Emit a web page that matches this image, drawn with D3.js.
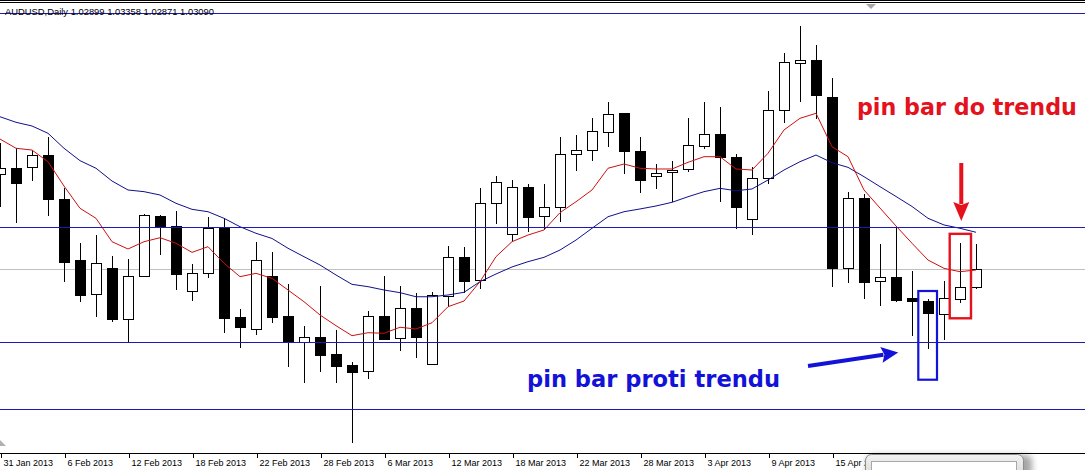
<!DOCTYPE html>
<html><head><meta charset="utf-8">
<script src="https://cdn.jsdelivr.net/npm/d3@7"></script>
<style>html,body{margin:0;padding:0;background:#fff;overflow:hidden}</style>
</head><body>
<svg id="c" width="1085" height="470"></svg>
<script>
const title = "AUDUSD,Daily  1.02899 1.03358 1.02871 1.03090";
const dates = ["31 Jan 2013","1 Feb 2013","4 Feb 2013","5 Feb 2013","6 Feb 2013","7 Feb 2013","8 Feb 2013","11 Feb 2013","12 Feb 2013","13 Feb 2013","14 Feb 2013","15 Feb 2013","18 Feb 2013","19 Feb 2013","20 Feb 2013","21 Feb 2013","22 Feb 2013","25 Feb 2013","26 Feb 2013","27 Feb 2013","28 Feb 2013","1 Mar 2013","4 Mar 2013","5 Mar 2013","6 Mar 2013","7 Mar 2013","8 Mar 2013","11 Mar 2013","12 Mar 2013","13 Mar 2013","14 Mar 2013","15 Mar 2013","18 Mar 2013","19 Mar 2013","20 Mar 2013","21 Mar 2013","22 Mar 2013","25 Mar 2013","26 Mar 2013","27 Mar 2013","28 Mar 2013","29 Mar 2013","1 Apr 2013","2 Apr 2013","3 Apr 2013","4 Apr 2013","5 Apr 2013","8 Apr 2013","9 Apr 2013","10 Apr 2013","11 Apr 2013","12 Apr 2013","15 Apr 2013","16 Apr 2013","17 Apr 2013","18 Apr 2013","19 Apr 2013","22 Apr 2013","23 Apr 2013","24 Apr 2013","25 Apr 2013","26 Apr 2013"];
const open = [1.04119,1.04181,1.04191,1.04324,1.03849,1.03189,1.02818,1.03099,1.02555,1.03013,1.03665,1.03554,1.02857,1.03045,1.03535,1.02570,1.02447,1.03016,1.02587,1.02306,1.02354,1.02173,1.02054,1.01986,1.02584,1.02343,1.02670,1.02062,1.02797,1.03218,1.02970,1.03802,1.03467,1.03975,1.03662,1.03759,1.04332,1.04375,1.04570,1.04775,1.04364,1.04094,1.04144,1.04170,1.04425,1.04551,1.04303,1.03636,1.04072,1.04808,1.05322,1.05351,1.04951,1.03106,1.03856,1.02959,1.03002,1.02775,1.02743,1.02602,1.02768,1.02899];
const high = [1.04451,1.04397,1.04378,1.04522,1.03964,1.03370,1.03459,1.03232,1.03197,1.03686,1.03676,1.03719,1.03146,1.03651,1.03640,1.02656,1.03381,1.03279,1.02930,1.02479,1.02908,1.02432,1.02090,1.02638,1.03016,1.02908,1.02829,1.02840,1.03341,1.03333,1.03968,1.04097,1.04051,1.04011,1.04011,1.04519,1.04541,1.04721,1.04897,1.04778,1.04516,1.04227,1.04259,1.04721,1.04897,1.04840,1.04332,1.04195,1.05016,1.05427,1.05719,1.05514,1.05154,1.03928,1.03903,1.03362,1.03549,1.03073,1.02768,1.02962,1.03370,1.03358];
const low = [1.03765,1.03586,1.04046,1.03668,1.02955,1.02738,1.02570,1.02522,1.02289,1.03010,1.03243,1.02865,1.02749,1.02998,1.02397,1.02235,1.02375,1.02508,1.02036,1.01863,1.01982,1.01863,1.01214,1.01903,1.02330,1.02205,1.02133,1.02060,1.02678,1.02836,1.02872,1.03578,1.03398,1.03489,1.03514,1.03603,1.04155,1.04263,1.04414,1.04119,1.03917,1.03957,1.03813,1.04137,1.04392,1.03819,1.03521,1.03456,1.04008,1.04674,1.04901,1.04717,1.02901,1.02937,1.02764,1.02692,1.02738,1.02371,1.02227,1.02328,1.02721,1.02871];
const close = [1.04181,1.04018,1.04321,1.03852,1.03171,1.02814,1.03154,1.02555,1.03013,1.03672,1.03549,1.03035,1.03045,1.03532,1.02565,1.02468,1.03192,1.02576,1.02299,1.02354,1.02165,1.02047,1.01982,1.02584,1.02338,1.02667,1.02360,1.02808,1.03218,1.02965,1.03802,1.04036,1.03975,1.03657,1.03759,1.04332,1.04375,1.04581,1.04764,1.04371,1.04057,1.04126,1.04165,1.04429,1.04548,1.04299,1.03765,1.04072,1.04811,1.05326,1.05348,1.04976,1.03106,1.03856,1.02955,1.03002,1.02762,1.02741,1.02613,1.02775,1.02901,1.03090];
const maRed = [1.04497,1.04397,1.04378,1.04252,1.03989,1.03748,1.03640,1.03387,1.03308,1.03387,1.03430,1.03370,1.03272,1.03333,1.03154,1.03009,1.03045,1.02991,1.02865,1.02738,1.02595,1.02479,1.02371,1.02403,1.02397,1.02462,1.02443,1.02511,1.02684,1.02746,1.02955,1.03225,1.03387,1.03459,1.03514,1.03701,1.03819,1.03946,1.04181,1.04227,1.04181,1.04173,1.04173,1.04245,1.04306,1.04306,1.04173,1.04162,1.04343,1.04595,1.04721,1.04775,1.04414,1.04306,1.03946,1.03751,1.03557,1.03370,1.03189,1.03099,1.03063,1.03081];
const maBlue = [1.04738,1.04678,1.04638,1.04559,1.04397,1.04263,1.04181,1.04043,1.03946,1.03928,1.03892,1.03802,1.03737,1.03711,1.03640,1.03549,1.03478,1.03422,1.03316,1.03225,1.03135,1.03027,1.02926,1.02901,1.02865,1.02836,1.02792,1.02792,1.02811,1.02840,1.02955,1.03038,1.03114,1.03171,1.03218,1.03297,1.03405,1.03532,1.03657,1.03711,1.03741,1.03773,1.03813,1.03873,1.03928,1.03964,1.03938,1.03957,1.04054,1.04162,1.04252,1.04324,1.04241,1.04191,1.04090,1.03982,1.03876,1.03768,1.03640,1.03568,1.03532,1.03489];
const levels = [1.05859, 1.03549, 1.02299, 1.01575];
const bidPrice = 1.03090;
const noteTexts = ["pin bar do trendu", "pin bar proti trendu"];
const noteColors = ["#e4121c", "#1212d8"];
const noteIndex = [53.56, 32.94];
const notePrice = [1.04757, 1.01816];
const boxIndex = [60, 58];
const boxTop = [1.03472, 1.02854];
const boxBottom = [1.02559, 1.01895];
const arrowFrom = [[60.08, 1.04238], [50.5, 1.02043]];
const arrowTo = [[60.08, 1.03611], [56.14, 1.02190]];

const svg = d3.select("#c");
const W = 1085, H = 470;
const x = d3.scalePoint().domain(dates).range([0, 976]);
const xi = d3.scaleLinear().domain([0, dates.length - 1]).range([0, 976]);
const y = d3.scaleLinear().domain([1.01, 1.06]).range([462.5, 0]);
const axisY = 453.5;

svg.append("rect").attr("width", W).attr("height", H).attr("fill", "#fff");

// frame top
svg.append("line").attr("x1",0).attr("x2",W).attr("y1",0.5).attr("y2",0.5).attr("stroke","#000");
svg.append("line").attr("x1",0).attr("x2",W).attr("y1",2.5).attr("y2",2.5).attr("stroke","#000");

// bid line
svg.append("line").attr("x1",0).attr("x2",W)
  .attr("y1", Math.round(y(bidPrice))+0.5).attr("y2", Math.round(y(bidPrice))+0.5)
  .attr("stroke","#c0c0c0");

// candles
const idx = d3.range(dates.length);
const cg = svg.append("g").attr("shape-rendering","crispEdges");
cg.selectAll("line.w").data(idx).join("line")
  .attr("x1", i => x(dates[i]) + 0.5).attr("x2", i => x(dates[i]) + 0.5)
  .attr("y1", i => y(high[i])).attr("y2", i => y(low[i]))
  .attr("stroke", "#000");
cg.selectAll("rect.b").data(idx).join("rect")
  .attr("x", i => x(dates[i]) - 4.5).attr("width", 10)
  .attr("y", i => Math.round(y(Math.max(open[i], close[i]))) + 0.5)
  .attr("height", i => Math.max(1, Math.round(y(Math.min(open[i], close[i]))) - Math.round(y(Math.max(open[i], close[i])))))
  .attr("fill", i => close[i] > open[i] ? "#fff" : "#000")
  .attr("stroke", "#000");

// moving averages
const lineGen = arr => d3.line().x((d, i) => x(dates[i])).y(d => y(d))(arr);
svg.append("path").attr("d", lineGen(maBlue)).attr("fill","none").attr("stroke","#10108a").attr("stroke-width",1);
svg.append("path").attr("d", lineGen(maRed)).attr("fill","none").attr("stroke","#cc1010").attr("stroke-width",1);

// horizontal level lines
svg.append("g").attr("shape-rendering","crispEdges").selectAll("line").data(levels).join("line")
  .attr("x1",0).attr("x2",W)
  .attr("y1", d => Math.round(y(d))+0.5).attr("y2", d => Math.round(y(d))+0.5)
  .attr("stroke","#1a1ab4").attr("stroke-width",1);

// title
svg.append("text").attr("x",5).attr("y",15).text(title)
  .attr("font-family","'Liberation Sans', Arial, sans-serif").attr("font-size",9.4).attr("fill","#000");

// chart shift markers
svg.append("polygon").attr("points","866,4 876,4 871,9").attr("fill","#a8a8a8");

// x axis
const ticks = dates.filter((d, i) => i % 4 === 0);
const ax = svg.append("g").attr("transform", `translate(0.5,${axisY})`)
  .call(d3.axisBottom(x).tickValues(ticks).tickSize(4).tickSizeOuter(0));
ax.select(".domain").remove();
ax.selectAll(".tick line").attr("stroke","#000").attr("shape-rendering","crispEdges");
ax.selectAll(".tick text").attr("text-anchor","start").attr("x",2.5).attr("y",12.5).attr("dy",null)
  .attr("font-family","'Liberation Sans', Arial, sans-serif").attr("font-size",9).attr("fill","#000");
svg.append("line").attr("x1",0).attr("x2",W).attr("y1",axisY).attr("y2",axisY).attr("stroke","#000").attr("shape-rendering","crispEdges");
svg.append("polygon").attr("points","0,440 6,446 0,446").attr("fill","#b0b0b0");

// annotation boxes
svg.selectAll("rect.box").data(boxIndex).join("rect").attr("class","box")
  .attr("x", (d, i) => x(dates[d]) - (i === 0 ? 10.3 : 9.7))
  .attr("width", (d, i) => i === 0 ? 21.3 : 18.7)
  .attr("y", (d, i) => y(boxTop[i]))
  .attr("height", (d, i) => y(boxBottom[i]) - y(boxTop[i]))
  .attr("fill","none").attr("stroke", (d, i) => noteColors[i]).attr("stroke-width", (d,i)=> i===0?2.4:2.2);

// arrows
function arrow(p1, p2, color, headLen, headHalf, w) {
  const x1 = xi(p1[0]), y1 = y(p1[1]), x2 = xi(p2[0]), y2 = y(p2[1]);
  const dx = x2 - x1, dy = y2 - y1, L = Math.hypot(dx, dy);
  const ux = dx / L, uy = dy / L, nx = -uy, ny = ux;
  const bx = x2 - ux * headLen, by = y2 - uy * headLen;
  svg.append("line").attr("x1", x1).attr("y1", y1).attr("x2", bx + ux * 2).attr("y2", by + uy * 2)
    .attr("stroke", color).attr("stroke-width", w);
  svg.append("polygon").attr("points", [[x2, y2], [bx + nx * headHalf, by + ny * headHalf], [bx + ux*3, by + uy*3], [bx - nx * headHalf, by - ny * headHalf]].map(p => p.join(",")).join(" "))
    .attr("fill", color);
}
arrow(arrowFrom[0], arrowTo[0], noteColors[0], 19, 8, 4);
arrow(arrowFrom[1], arrowTo[1], noteColors[1], 17, 8, 4);

// annotation texts
svg.selectAll("text.note").data(noteTexts).join("text").attr("class","note")
  .attr("x", (d, i) => xi(noteIndex[i])).attr("y", (d, i) => y(notePrice[i]))
  .attr("font-family","'DejaVu Sans', Verdana, sans-serif").attr("font-weight","bold")
  .attr("font-size", 22.4).attr("fill", (d, i) => noteColors[i])
  .attr("textLength", (d, i) => i === 0 ? 220 : 253).attr("lengthAdjust","spacingAndGlyphs")
  .text(d => d);

// popup window artifact at bottom right
const defs = svg.append("defs");
const f = defs.append("filter").attr("id","sh").attr("x","-20%").attr("y","-50%").attr("width","140%").attr("height","200%");
f.append("feGaussianBlur").attr("stdDeviation",3);
const g = defs.append("linearGradient").attr("id","pg").attr("x1",0).attr("x2",0).attr("y1",0).attr("y2",1);
g.append("stop").attr("offset",0).attr("stop-color","#f2f2f2");
g.append("stop").attr("offset",1).attr("stop-color","#d6d6d6");
svg.append("rect").attr("x",867).attr("y",455).attr("width",165).attr("height",30).attr("rx",6).attr("fill","#000").attr("opacity",0.35).attr("filter","url(#sh)");
svg.append("rect").attr("x",865.5).attr("y",454.5).attr("width",158).attr("height",25).attr("rx",6).attr("fill","url(#pg)").attr("stroke","#8c8c8c");
svg.append("rect").attr("x",871.5).attr("y",461.5).attr("width",145).attr("height",20).attr("fill","#fff").attr("stroke","#a8a8a8");
</script>
</body></html>
